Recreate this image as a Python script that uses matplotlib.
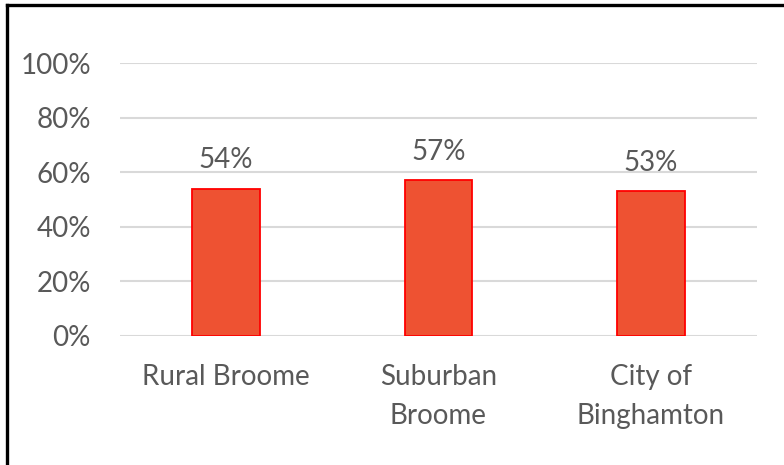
import matplotlib.pyplot as plt
from matplotlib.lines import Line2D

# Данные
categories = ["Rural Broome", "Suburban\nBroome", "City of\nBinghamton"]
values = [54, 57, 53]
yticks = [0, 20, 40, 60, 80, 100]

plt.rcParams['font.family'] = ['Lato', 'DejaVu Sans']
text_color = "#595959"
fs = 20

fig = plt.figure(figsize=(7.84, 4.65), dpi=100)
ax = fig.add_axes([120 / 784, 1 - 336 / 465, 637 / 784, 273 / 465])

x = range(len(categories))
bars = ax.bar(x, values, width=0.32, color="#EE5232", edgecolor="#FF0000",
              linewidth=1.3, zorder=3)

for xi, v in zip(x, values):
    ax.text(xi, v + 7.5, f"{v}%", ha="center", va="baseline", fontsize=fs,
            color=text_color)

ax.set_xlim(-0.5, len(categories) - 0.5)
ax.set_ylim(0, 100)
ax.set_yticks(yticks)
ax.set_yticklabels([f"{t}%" for t in yticks], fontsize=fs, color=text_color)
ax.set_xticks(list(x))
ax.set_xticklabels(categories, fontsize=fs, color=text_color, linespacing=1.65)
ax.tick_params(axis="both", length=0)
ax.tick_params(axis="y", pad=21)
ax.tick_params(axis="x", pad=20)

ax.grid(axis="y", color="#D9D9D9", linewidth=1.5, zorder=0)
for s in ax.spines.values():
    s.set_visible(False)

# Рамка: только сверху и слева
fig.add_artist(Line2D([6.5 / 784, 1], [1 - 5.5 / 465, 1 - 5.5 / 465],
                      transform=fig.transFigure, color="black", linewidth=2.4))
fig.add_artist(Line2D([6.5 / 784, 6.5 / 784], [0, 1 - 5.5 / 465],
                      transform=fig.transFigure, color="black", linewidth=2.4))

fig.savefig("out.png", dpi=100)
